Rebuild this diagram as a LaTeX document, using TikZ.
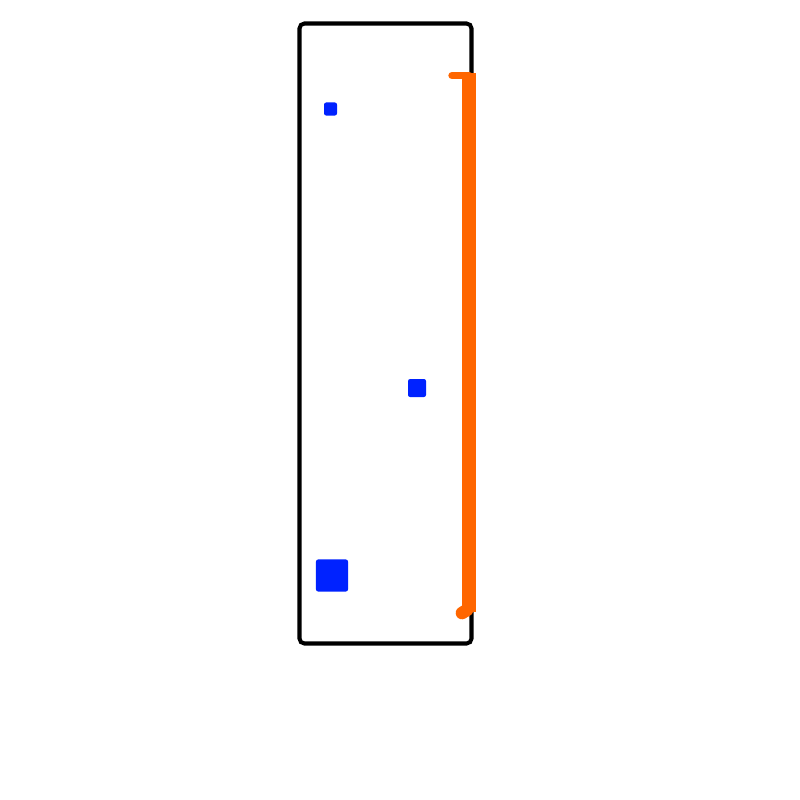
\documentclass[tikz,border=0pt]{standalone}
\usepackage{tikz}
\usetikzlibrary{positioning}
\definecolor{markblue}{HTML}{0022FF}
\definecolor{spanorange}{HTML}{FF6600}
\tikzset{
  mark box/.style={fill=markblue, draw=none, rounded corners=0.6pt, inner sep=0pt},
  span line/.style={draw=spanorange, line cap=round}
}
\begin{document}
\begin{tikzpicture}[x=0.01cm, y=-0.01cm]
\useasboundingbox (0,0) rectangle (800,800);
\draw[line width=1.15pt, rounded corners=1.4pt] (299.5,23.5) rectangle (471.5,643.5);
\node[mark box, minimum size=0.13cm] (small) at (330.5,109) {};
\node[mark box, minimum size=0.18cm] (middle) at (417,388) {};
\node[mark box, minimum size=0.32cm] (large) at (332,575.5) {};
\coordinate (top) at (469,75.5);
\coordinate (bottom) at (467,610);
\draw[span line, line width=2.1pt] (452,75.5) -- (top);
\draw[span line, line width=3.8pt, line cap=butt] (469,73) -- (469,612);
\draw[span line, line width=3.6pt] (bottom) -- (462,613);
\end{tikzpicture}
\end{document}
